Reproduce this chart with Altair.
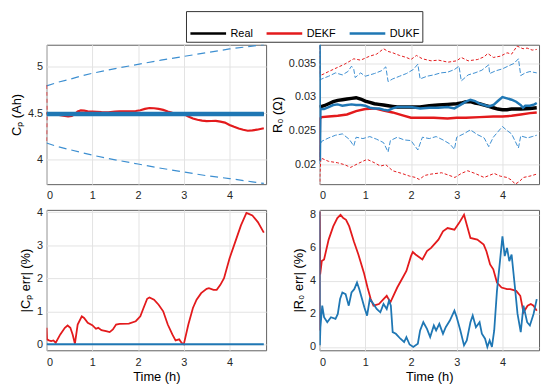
import altair as alt
import pandas as pd

# ---------------- data ----------------
# Top-left: Cp (Ah)
tl_real_t = [0, 4.75]
tl_real_v = [4.49, 4.49]
tl_dukf_t = [0, 4.75]
tl_dukf_v = [4.49, 4.49]
tl_dekf_t = [0, 0.03, 0.1, 0.2, 0.3, 0.4, 0.47, 0.55, 0.62, 0.68, 0.75, 0.82, 0.9, 1.0, 1.1,
             1.2, 1.35, 1.5, 1.6, 1.8, 1.95, 2.05, 2.15, 2.25, 2.35, 2.45, 2.55, 2.65, 2.75, 2.85,
             2.95, 3.0, 3.1, 3.2, 3.3, 3.4, 3.5, 3.6, 3.7, 3.8, 3.9, 4.0, 4.1, 4.2, 4.3,
             4.4, 4.5, 4.6, 4.75]
tl_dekf_v = [4.51, 4.483, 4.486, 4.488, 4.477, 4.468, 4.464, 4.47, 4.489, 4.517, 4.528, 4.526, 4.519, 4.516, 4.512,
             4.509, 4.507, 4.516, 4.518, 4.518, 4.522, 4.53, 4.544, 4.554, 4.551, 4.544, 4.534, 4.517, 4.503, 4.495,
             4.494, 4.49, 4.463, 4.441, 4.428, 4.419, 4.414, 4.415, 4.416, 4.408, 4.398, 4.373, 4.353, 4.335, 4.322,
             4.311, 4.315, 4.322, 4.338]
tl_bnd_t = [0, 0.25, 0.5, 0.75, 1.0, 1.5, 2.0, 2.5, 3.0, 3.5, 4.0, 4.5, 4.75]
tl_dukf_up = [4.79, 4.83, 4.86, 4.895, 4.925, 4.975, 5.02, 5.065, 5.105, 5.145, 5.185, 5.215, 5.232]
tl_dukf_lo = [4.18, 4.14, 4.11, 4.08, 4.05, 4.0, 3.955, 3.91, 3.87, 3.83, 3.8, 3.765, 3.748]
tl_dekf_bnd_t = [0, 0.008]
tl_dekf_up = [4.8, 4.5]
tl_dekf_lo = [4.2, 4.5]

# Top-right: R0 (Ohm)
tr_real_t = [0, 0.1, 0.2, 0.3, 0.4, 0.5, 0.6, 0.7, 0.8, 0.9, 1.0, 1.1, 1.2, 1.3, 1.4, 1.5, 1.6, 1.7,
             1.8, 1.9, 2.0, 2.2, 2.4, 2.6, 2.8, 3.0, 3.1, 3.2, 3.3, 3.4, 3.5, 3.6, 3.7, 3.8, 3.9,
             4.0, 4.1, 4.2, 4.4, 4.6, 4.75]
tr_real_v = [0.0285, 0.0287, 0.0290, 0.0293, 0.0295, 0.0296, 0.0297, 0.0298, 0.0299, 0.0297, 0.0294,
             0.0292, 0.0290, 0.0289, 0.0288, 0.0287, 0.0286, 0.0285, 0.0285, 0.0285, 0.0285, 0.0285,
             0.0287, 0.0288, 0.0289, 0.0290, 0.0291, 0.0293, 0.0293, 0.0291, 0.0290, 0.0288, 0.0286,
             0.0284, 0.0282, 0.0281, 0.0281, 0.0282, 0.0282, 0.0283, 0.0284]
tr_dekf_t = [0, 0.01, 0.05, 0.2, 0.4, 0.6, 0.8, 1.0, 1.2, 1.4, 1.6, 1.8, 2.0, 2.2, 2.5, 2.8,
             3.0, 3.2, 3.5, 3.8, 4.0, 4.2, 4.4, 4.6, 4.75]
tr_dekf_v = [0.0205, 0.0268, 0.0270, 0.0271, 0.0272, 0.0274, 0.0279, 0.0282, 0.0283, 0.0280, 0.0277,
             0.0273, 0.0269, 0.0269, 0.0269, 0.0268, 0.0269, 0.0269, 0.0270, 0.0271, 0.0271, 0.0272,
             0.0274, 0.0276, 0.0277]
tr_dukf_t = [0, 0.008, 0.02, 0.1, 0.2, 0.3, 0.4, 0.5, 0.6, 0.7, 0.8, 0.9, 1.0, 1.1, 1.2, 1.3, 1.4,
             1.5, 1.6, 1.7, 1.8, 2.0, 2.2, 2.4, 2.6, 2.8, 2.95, 3.1, 3.2, 3.3, 3.4, 3.5, 3.6, 3.7,
             3.8, 3.9, 4.0, 4.1, 4.2, 4.3, 4.4, 4.45, 4.5, 4.6, 4.7, 4.75]
tr_dukf_v = [0.045, 0.0205, 0.0282, 0.0282, 0.0285, 0.0288, 0.0289, 0.0287, 0.0288, 0.0289, 0.0288,
             0.0288, 0.0287, 0.0284, 0.0283, 0.0283, 0.0281, 0.0280, 0.0283, 0.0285, 0.0285, 0.0285,
             0.0283, 0.0284, 0.0284, 0.0285, 0.0283, 0.0289, 0.0293, 0.0296, 0.0294, 0.0290, 0.0288,
             0.0286, 0.0288, 0.0294, 0.0300, 0.0298, 0.0296, 0.0293, 0.0288, 0.0284, 0.0287, 0.0287,
             0.0289, 0.0291]
tr_dekf_up_t = [0, 0.01, 0.05, 0.2, 0.39, 0.55, 0.75, 0.9, 1.1, 1.25, 1.4, 1.5, 1.6, 1.75, 1.9,
                2.0, 2.12, 2.25, 2.44, 2.6, 2.81, 3.0, 3.1, 3.25, 3.46, 3.6, 3.68, 3.8, 3.96, 4.1,
                4.2, 4.32, 4.45, 4.54, 4.65, 4.75]
tr_dekf_up_v = [0.045, 0.0335, 0.0333, 0.0338, 0.0344, 0.0349, 0.0357, 0.0355, 0.0361, 0.0364,
                0.0372, 0.0368, 0.0366, 0.0362, 0.0359, 0.0356, 0.0362, 0.0357, 0.0354, 0.0355,
                0.0352, 0.0354, 0.0359, 0.0354, 0.0356, 0.0360, 0.0365, 0.0359, 0.0361, 0.0366,
                0.0364, 0.0376, 0.0372, 0.0373, 0.0370, 0.0371]
tr_dekf_lo_t = [0, 0.01, 0.03, 0.2, 0.39, 0.55, 0.68, 0.85, 1.04, 1.2, 1.33, 1.45, 1.6, 1.8, 1.97,
                2.1, 2.18, 2.3, 2.44, 2.67, 2.8, 2.96, 3.1, 3.24, 3.4, 3.6, 3.82, 3.95, 4.1, 4.2,
                4.28, 4.37, 4.46, 4.6, 4.75]
tr_dekf_lo_v = [0.010, 0.0185, 0.0209, 0.0204, 0.0202, 0.0199, 0.0195, 0.0201, 0.0207, 0.0202,
                0.0197, 0.0199, 0.0190, 0.0186, 0.0182, 0.0180, 0.0177, 0.0183, 0.0185, 0.0187,
                0.0184, 0.0180, 0.0186, 0.0190, 0.0186, 0.0180, 0.0186, 0.0182, 0.0180, 0.0176,
                0.0170, 0.0174, 0.0180, 0.0182, 0.0185]
tr_dukf_up_t = [0, 0.01, 0.05, 0.2, 0.35, 0.5, 0.62, 0.7, 0.75, 0.78, 0.9, 1.0, 1.1, 1.2, 1.35,
                1.45, 1.5, 1.6, 1.75, 1.9, 2.05, 2.15, 2.2, 2.35, 2.5, 2.65, 2.8, 2.95, 3.05, 3.1,
                3.25, 3.4, 3.55, 3.7, 3.72, 3.85, 4.0, 4.15, 4.25, 4.35, 4.4, 4.5, 4.6, 4.75]
tr_dukf_up_v = [0.045, 0.0325, 0.0327, 0.0331, 0.0336, 0.0333, 0.0338, 0.0346, 0.0341, 0.0329,
                0.0336, 0.0331, 0.0333, 0.0335, 0.0339, 0.0345, 0.0323, 0.0327, 0.0331, 0.0335,
                0.0341, 0.0349, 0.0327, 0.0331, 0.0333, 0.0336, 0.0337, 0.0341, 0.0346, 0.0324,
                0.0333, 0.0336, 0.0340, 0.0348, 0.0335, 0.0339, 0.0342, 0.0347, 0.0350, 0.0357,
                0.0332, 0.0336, 0.0338, 0.0336]
tr_dukf_lo_t = [0, 0.01, 0.05, 0.2, 0.35, 0.5, 0.65, 0.75, 0.8, 0.95, 1.1, 1.25, 1.4, 1.5, 1.55,
                1.7, 1.85, 2.0, 2.15, 2.25, 2.4, 2.55, 2.7, 2.85, 2.95, 3.0, 3.15, 3.3, 3.45, 3.6,
                3.7, 3.8, 3.9, 4.0, 4.1, 4.2, 4.35, 4.4, 4.55, 4.65, 4.75]
tr_dukf_lo_v = [0.0200, 0.0229, 0.0234, 0.0239, 0.0243, 0.0245, 0.0237, 0.0227, 0.0240, 0.0238,
                0.0241, 0.0237, 0.0232, 0.0218, 0.0235, 0.0240, 0.0236, 0.0235, 0.0221, 0.0240,
                0.0238, 0.0241, 0.0236, 0.0230, 0.0222, 0.0240, 0.0245, 0.0251, 0.0244, 0.0239,
                0.0226, 0.0240, 0.0248, 0.0256, 0.0250, 0.0245, 0.0224, 0.0242, 0.0239, 0.0241,
                0.0243]

# Bottom-left: |Cp err| (%)
bl_dekf_t = [0, 0.01, 0.05, 0.1, 0.15, 0.2, 0.3, 0.4, 0.46, 0.52, 0.57, 0.62, 0.68, 0.77, 0.82,
             0.9, 1.0, 1.08, 1.13, 1.2, 1.3, 1.38, 1.45, 1.52, 1.6, 1.8, 1.95, 2.05, 2.12, 2.2,
             2.25, 2.35, 2.45, 2.55, 2.65, 2.75, 2.82, 2.9, 2.95, 3.0, 3.1, 3.2, 3.28, 3.38, 3.5,
             3.55, 3.65, 3.72, 3.8, 3.88, 4.0, 4.15, 4.25, 4.37, 4.42, 4.5, 4.62, 4.75]
bl_dekf_v = [0.5, 0.15, 0.12, 0.1, 0.12, 0.05, 0.3, 0.5, 0.57, 0.5, 0.3, 0.02, 0.6, 0.85, 0.8,
             0.65, 0.58, 0.47, 0.5, 0.43, 0.4, 0.37, 0.45, 0.6, 0.62, 0.63, 0.7, 0.85, 1.1, 1.38,
             1.42, 1.35, 1.2, 1.0, 0.6, 0.3, 0.12, 0.15, 0.05, 0.0, 0.6, 1.1, 1.35, 1.55, 1.68,
             1.7, 1.65, 1.65, 1.8, 2.0, 2.6, 3.2, 3.6, 3.98, 3.95, 3.9, 3.7, 3.38]
bl_dukf_t = [0, 4.75]
bl_dukf_v = [0.0, 0.0]

# Bottom-right: |R0 err| (%)
br_dekf_t = [0, 0.005, 0.015, 0.05, 0.1, 0.2, 0.3, 0.39, 0.46, 0.52, 0.58, 0.65, 0.75, 0.85, 0.97,
             1.05, 1.12, 1.18, 1.3, 1.4, 1.47, 1.55, 1.6, 1.7, 1.8, 1.9, 2.0, 2.04, 2.1, 2.25,
             2.35, 2.44, 2.6, 2.7, 2.8, 2.95, 3.05, 3.16, 3.22, 3.3, 3.45, 3.59, 3.65, 3.73, 3.8,
             3.88, 3.98, 4.1, 4.17, 4.3, 4.39, 4.46, 4.55, 4.62, 4.68, 4.75]
br_dekf_v = [1.0, 8.2, 4.4, 5.2, 5.3, 6.5, 7.3, 7.8, 8.0, 7.8, 7.7, 7.3, 6.4, 5.6, 4.5,
             3.6, 2.9, 2.5, 2.6, 2.9, 3.1, 2.7, 3.0, 3.6, 4.1, 4.6, 5.5, 5.75, 5.6, 5.3,
             5.8, 6.0, 6.5, 7.0, 7.2, 7.1, 7.5, 8.0, 7.4, 6.6, 6.5, 6.2, 5.8, 5.0, 4.7,
             3.9, 3.6, 3.5, 3.5, 3.4, 3.1, 2.1, 2.5, 2.6, 2.5, 2.2]
br_dukf_t = [0, 0.008, 0.02, 0.06, 0.1, 0.17, 0.25, 0.35, 0.4, 0.45, 0.5, 0.57, 0.64, 0.7, 0.76,
             0.82, 0.87, 0.93, 0.98, 1.04, 1.1, 1.18, 1.25, 1.33, 1.4, 1.47, 1.52, 1.56, 1.6, 1.67,
             1.77, 1.85, 1.9, 1.97, 2.05, 2.15, 2.2, 2.27, 2.35, 2.42, 2.5, 2.55, 2.62, 2.7, 2.76,
             2.85, 2.95, 3.0, 3.08, 3.16, 3.22, 3.3, 3.35, 3.42, 3.5, 3.55, 3.62, 3.67, 3.72, 3.77,
             3.82, 3.88, 3.95, 4.0, 4.05, 4.1, 4.15, 4.2, 4.27, 4.33, 4.4, 4.46, 4.54, 4.6, 4.68,
             4.75]
br_dukf_v = [8.2, 0.1, 1.2, 2.5, 1.8, 1.5, 1.8, 1.7, 2.0, 2.9, 3.3, 3.2, 2.5, 3.3, 3.5,
             3.9, 3.5, 2.9, 2.4, 1.9, 2.9, 2.6, 2.3, 2.1, 2.6, 2.3, 2.8, 2.5, 0.9, 0.8,
             0.5, 0.3, 0.6, 0.15, 0.0, 0.2, 1.0, 1.5, 1.1, 0.6, 1.3, 1.0, 1.4, 0.8, 1.2,
             1.6, 2.2, 1.8, 1.0, 0.1, 0.4, 1.5, 1.9, 1.2, 1.5, 0.8, 0.5, 0.0, 0.4, 0.0,
             1.0, 3.4, 5.3, 6.7, 5.5, 6.0, 5.2, 5.6, 3.7, 2.0, 0.9, 2.5, 1.5, 1.3, 2.0,
             2.9]

methods = ["Real", "DEKF", "DUKF"]
x_ticks = [0, 1, 2, 3, 4]

# ---------------- styling ----------------
RED = "#e31a1c"
BLUE = "#1f77b4"
BLUE_LIGHT = "#3d8fd1"
BLACK = "#000000"
FONT = "Liberation Sans"
XDOM = [0, 4.8]

method_scale = alt.Scale(domain=methods, range=[BLACK, RED, BLUE])
legend = alt.Legend(
    title=None, orient="none", legendX=141, legendY=-34, direction="horizontal",
    symbolType="stroke", symbolSize=1300, symbolStrokeWidth=2.5,
    labelFont=FONT, labelFontSize=11, labelColor="#000000", labelOffset=3,
    strokeColor="#333333", fillColor="#ffffff", padding=3, columnPadding=8,
)


def panel(layers, ydom, yticks, ytitle, xtitle, w, h):
    charts = []
    xax = alt.Axis(values=x_ticks, format="d", title=xtitle, labelPadding=6)
    yax = alt.Axis(values=yticks, format="~g", title=ytitle)
    for t, v, name, sw, dash, col in layers:
        df = pd.DataFrame({"t": t, "v": v, "method": name})
        kw = dict(strokeWidth=sw, clip=True)
        if dash:
            kw["strokeDash"] = dash
        if col:
            kw["color"] = col
        enc = dict(
            x=alt.X("t:Q", scale=alt.Scale(domain=XDOM, nice=False, zero=False), axis=xax),
            y=alt.Y("v:Q", scale=alt.Scale(domain=ydom, nice=False, zero=False), axis=yax),
        )
        if not col:
            enc["color"] = alt.Color("method:N", scale=method_scale, legend=legend)
        charts.append(alt.Chart(df).mark_line(**kw).encode(**enc))
    return alt.layer(*charts).properties(width=w, height=h)


tl = panel([
    (tl_bnd_t, tl_dukf_up, "DUKF bound", 1.2, [8, 5], BLUE_LIGHT),
    (tl_bnd_t, tl_dukf_lo, "DUKF bound", 1.2, [8, 5], BLUE_LIGHT),
    (tl_dekf_bnd_t, tl_dekf_up, "DEKF bound", 1.2, [4, 3], RED),
    (tl_dekf_bnd_t, tl_dekf_lo, "DEKF bound", 1.2, [4, 3], RED),
    (tl_real_t, tl_real_v, "Real", 3, None, None),
    (tl_dekf_t, tl_dekf_v, "DEKF", 2.2, None, None),
    (tl_dukf_t, tl_dukf_v, "DUKF", 4.5, None, None),
], [3.74, 5.23], [4, 4.5, 5], "Cₚ (Ah)", None, 222, 141)

tr = panel([
    (tr_dekf_up_t, tr_dekf_up_v, "DEKF bound", 1.0, [3, 2], RED),
    (tr_dekf_lo_t, tr_dekf_lo_v, "DEKF bound", 1.0, [3, 2], RED),
    (tr_dukf_up_t, tr_dukf_up_v, "DUKF bound", 1.0, [5, 2], BLUE_LIGHT),
    (tr_dukf_lo_t, tr_dukf_lo_v, "DUKF bound", 1.0, [5, 2], BLUE_LIGHT),
    (tr_real_t, tr_real_v, "Real", 3.5, None, None),
    (tr_dekf_t, tr_dekf_v, "DEKF", 2.5, None, None),
    (tr_dukf_t, tr_dukf_v, "DUKF", 2.5, None, None),
], [0.0170, 0.0378], [0.02, 0.025, 0.03, 0.035], "R₀ (Ω)", None, 222, 141)

bl = panel([
    (bl_dekf_t, bl_dekf_v, "DEKF", 1.8, None, None),
    (bl_dukf_t, bl_dukf_v, "DUKF", 2.0, None, None),
], [-0.18, 4.07], [0, 1, 2, 3, 4], "|Cₚ err| (%)", "Time (h)", 222, 142)

br = panel([
    (br_dekf_t, br_dekf_v, "DEKF", 1.8, None, None),
    (br_dukf_t, br_dukf_v, "DUKF", 1.8, None, None),
], [-0.2, 8.3], [0, 2, 4, 6, 8], "|R₀ err| (%)", "Time (h)", 222, 142)

chart = alt.concat(
    tl, tr, bl, br, columns=2, spacing={"row": 26, "column": 54}, bounds="flush"
).properties(
    padding={"left": 2, "top": 0, "right": 2, "bottom": 2}, background="white"
).configure_view(
    stroke="#5f5f5f", strokeWidth=1
).configure_axis(
    labelFont=FONT, labelFontSize=11, labelColor="#262626", labelPadding=4,
    titleFont=FONT, titleFontSize=13, titleFontWeight="normal", titleColor="#000000",
    ticks=False, domain=False, grid=True, gridColor="#e3e3e3", gridWidth=1, titlePadding=4,
)

chart.save("out.html", embed_options={"renderer": "svg", "actions": False})
